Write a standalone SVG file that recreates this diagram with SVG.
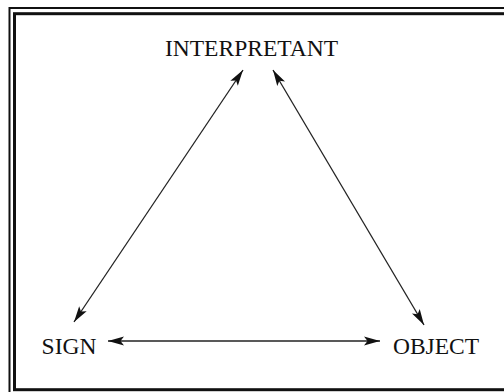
<svg xmlns="http://www.w3.org/2000/svg" width="504" height="392" viewBox="0 0 504 392">
<style>
.lbl{font-family:"Liberation Serif","Times New Roman",serif;font-size:23.5px;fill:#111;text-anchor:middle}
.edge{stroke:#222;stroke-width:1.3;fill:none;marker-start:url(#ah);marker-end:url(#ah)}
</style>
<defs>
<marker id="ah" markerUnits="userSpaceOnUse" markerWidth="17" markerHeight="11" refX="16" refY="5" orient="auto-start-reverse" viewBox="0 0 17 10">
<path d="M0,0.5 L16,5 L0,9.5 L3.5,5 z" fill="#111"/>
</marker>
</defs>
<rect width="504" height="392" fill="#fff"/>
<g id="frame" fill="none" stroke="#111">
<rect x="9.5" y="8" width="520" height="420" stroke-width="2"/>
<rect x="14.5" y="13.7" width="520" height="376" stroke-width="3"/>
</g>
<g id="connectors">
<line class="edge" x1="243" y1="70" x2="74" y2="322"/>
<line class="edge" x1="273" y1="70" x2="424" y2="325"/>
<line class="edge" x1="108" y1="341" x2="380" y2="341"/>
</g>
<g id="interpretant"><text class="lbl" x="251.5" y="56">INTERPRETANT</text></g>
<g id="sign"><text class="lbl" x="69" y="354">SIGN</text></g>
<g id="object"><text class="lbl" x="436" y="354">OBJECT</text></g>
</svg>
